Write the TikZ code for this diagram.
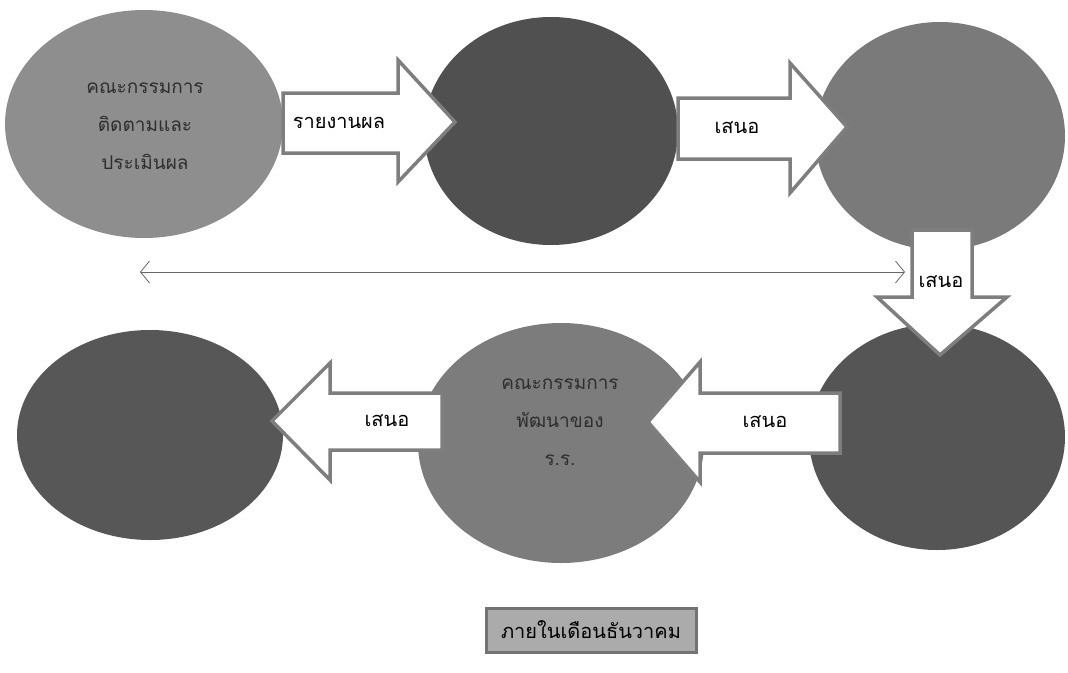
\documentclass[tikz,border=0pt]{standalone}
\usepackage{fontspec}
\newfontfamily\thaifont[Script=Thai]{Loma}
\usetikzlibrary{arrows.meta}
\definecolor{gA}{HTML}{8E8E8E}
\definecolor{gB}{HTML}{505050}
\definecolor{gC}{HTML}{7A7A7A}
\definecolor{gD}{HTML}{575757}
\definecolor{gE}{HTML}{7C7C7C}
\definecolor{gF}{HTML}{555555}
\definecolor{edgegray}{HTML}{7E7E7E}
\tikzset{
  x=1pt, y=-1pt,
  blockarrow/.style={draw=edgegray, line width=3.5pt, fill=white, line join=miter},
  lbl/.style={font=\thaifont\fontsize{20}{22}\selectfont, text=black, inner sep=0pt},
  intext/.style={font=\thaifont\fontsize{19}{38}\selectfont, text=black!82, align=center, inner sep=0pt},
  thinarrow/.style={draw=black!60, line width=0.8pt, {Straight Barb[length=9pt,width=22pt]}-{Straight Barb[length=9pt,width=22pt]}},
  notebox/.style={draw=black!55, line width=3pt, fill=black!33, minimum width=210pt, minimum height=44pt, font=\thaifont\fontsize{20}{22}\selectfont, text=black}
}
\begin{document}
\begin{tikzpicture}
\useasboundingbox (0,0) rectangle (1068,672);
% circles
\fill[gA] (144,124) ellipse [x radius=139, y radius=114];
\fill[gB] (551,131) ellipse [x radius=127, y radius=114];
\fill[gC] (940,136) ellipse [x radius=125, y radius=114];
\fill[gD] (150,435) ellipse [x radius=133, y radius=105];
\fill[gE] (561,443) ellipse [x radius=143, y radius=120];
\fill[gF] (937,437) ellipse [x radius=128, y radius=113];
% circle texts
\node[intext] (c1) at (145,126) {คณะกรรมการ\\ติดตามและ\\ประเมินผล};
\node[intext] (c5) at (560,422) {คณะกรรมการ\\พัฒนาของ\\ร.ร.};
% block arrows
\draw[blockarrow] (283,93) -- (398,93) -- (398,60) -- (455,122) -- (398,182) -- (398,153) -- (283,153) -- cycle;
\draw[blockarrow] (678,98) -- (790,98) -- (790,63) -- (847,127) -- (790,193) -- (790,159) -- (678,159) -- cycle;
\draw[blockarrow] (912,230) -- (972,230) -- (972,297) -- (1007,297) -- (940,355) -- (877,297) -- (912,297) -- cycle;
\draw[blockarrow] (840,393) -- (700,393) -- (700,362) -- (648,422) -- (700,482) -- (700,453) -- (840,453) -- cycle;
\draw[blockarrow] (442,393) -- (330,393) -- (330,363) -- (272,421) -- (330,480) -- (330,450) -- (442,450) -- cycle;
% arrow labels
\node[lbl] (a1) at (339,123) {รายงานผล};
\node[lbl] (a2) at (737,128) {เสนอ};
\node[lbl] (a3) at (941,282) {เสนอ};
\node[lbl] (a4) at (765,422) {เสนอ};
\node[lbl] (a5) at (387,421) {เสนอ};
% double arrow
\coordinate (dl) at (140,272);
\coordinate (dr) at (905,272);
\draw[thinarrow] (dl) -- (dr);
% note box
\node[notebox] (note) at (591,630) {ภายในเดือนธันวาคม};
\end{tikzpicture}
\end{document}
